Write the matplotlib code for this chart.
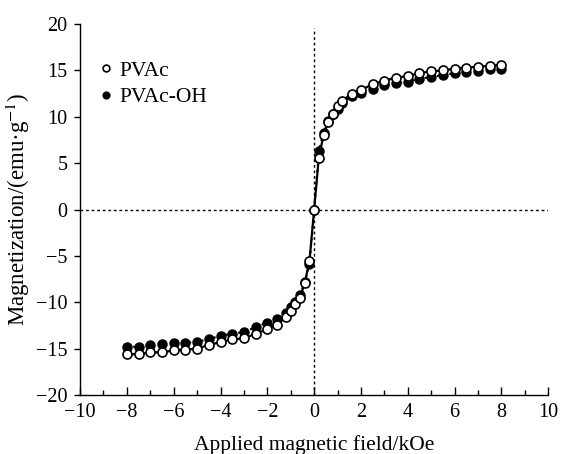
import matplotlib
matplotlib.use('Agg')
from matplotlib import pyplot as plt
from matplotlib.ticker import MultipleLocator

# Данные: поле (kOe) и намагниченность (emu/g)
field_neg = [-8.0, -7.5, -7.0, -6.5, -6.0, -5.5, -5.0, -4.5, -4.0, -3.5, -3.0,
             -2.5, -2.0, -1.6, -1.2, -1.0, -0.8, -0.6, -0.4, -0.2]
field_pos = [0.0, 0.2, 0.4, 0.6, 0.8, 1.0, 1.2, 1.6, 2.0, 2.5, 3.0, 3.5, 4.0,
             4.5, 5.0, 5.5, 6.0, 6.5, 7.0, 7.5, 8.0]
field = field_neg + field_pos

pvac_neg = [-15.6, -15.6, -15.4, -15.4, -15.2, -15.1, -15.0, -14.6, -14.3, -14.0,
            -13.9, -13.4, -12.9, -12.4, -11.6, -10.9, -10.2, -9.5, -7.9, -5.55]
pvac_pos = [0.0, 5.6, 8.0, 9.4, 10.3, 11.2, 11.7, 12.5, 12.9, 13.5, 13.9, 14.2,
            14.4, 14.7, 14.9, 15.0, 15.2, 15.3, 15.4, 15.5, 15.6]
pvac = pvac_neg + pvac_pos

pvac_oh_neg = [-14.8, -14.8, -14.6, -14.5, -14.4, -14.4, -14.25, -14.0, -13.6, -13.4,
               -13.2, -12.7, -12.2, -11.8, -11.2, -10.5, -10.0, -9.2, -7.8, -5.9]
pvac_oh_pos = [0.0, 6.3, 8.3, 9.5, 10.3, 10.8, 11.5, 12.2, 12.6, 13.0, 13.4, 13.6,
               13.8, 14.1, 14.3, 14.5, 14.7, 14.8, 14.9, 15.1, 15.2]
pvac_oh = pvac_oh_neg + pvac_oh_pos

plt.rcParams['font.family'] = ['Liberation Serif', 'DejaVu Serif']
plt.rcParams['mathtext.fontset'] = 'stix'

fig = plt.figure(figsize=(5.64, 4.54), dpi=100)
ax = fig.add_axes([0.142, 0.13, 0.830, 0.817])

# пунктирные оси через ноль
ax.vlines(0, -20, 19.6, color='black', lw=1.0, ls=(0, (2, 2)), zorder=1)
ax.axhline(0, color='black', lw=1.0, ls=(0, (2, 2)), zorder=1)

ax.plot(field, pvac_oh, color='black', lw=1.5, ls=(0, (1, 2)), zorder=2)
ax.plot(field, pvac, color='black', lw=1.6, ls='-', zorder=3)
ax.plot(field, pvac_oh, 'o', color='black', ms=6.5, zorder=4, label='PVAc-OH')
ax.plot(field, pvac, 'o', mfc='white', mec='black', mew=1.2, ms=6.5, zorder=5,
        label='PVAc')

ax.set_xlim(-10, 10)
ax.set_ylim(-20, 20)
ax.xaxis.set_major_locator(MultipleLocator(2))
ax.xaxis.set_minor_locator(MultipleLocator(1))
ax.yaxis.set_major_locator(MultipleLocator(5))

for side in ['top', 'right']:
    ax.spines[side].set_visible(False)
for side in ['left', 'bottom']:
    ax.spines[side].set_linewidth(1.0)

ax.tick_params(axis='x', which='major', direction='in', length=6, width=1.0,
               labelsize=14.5, pad=6)
ax.tick_params(axis='x', which='minor', direction='in', length=3.5, width=1.0)
ax.tick_params(axis='y', which='major', direction='out', length=4, width=1.0,
               labelsize=14.5, pad=5)

ax.set_xlabel('Applied magnetic field/kOe', fontsize=15.5, labelpad=9)
ax.set_ylabel('Magnetization/(emu·g$^{-1}$)', fontsize=16.5, labelpad=3)

handles, labels = ax.get_legend_handles_labels()
ax.legend(handles[::-1], labels[::-1], loc='upper left',
          bbox_to_anchor=(0.0, 0.953), frameon=False, fontsize=15.5,
          handlelength=0.6, handletextpad=0.35, labelspacing=0.3,
          markerscale=0.75)

fig.savefig('out.png', dpi=100)
